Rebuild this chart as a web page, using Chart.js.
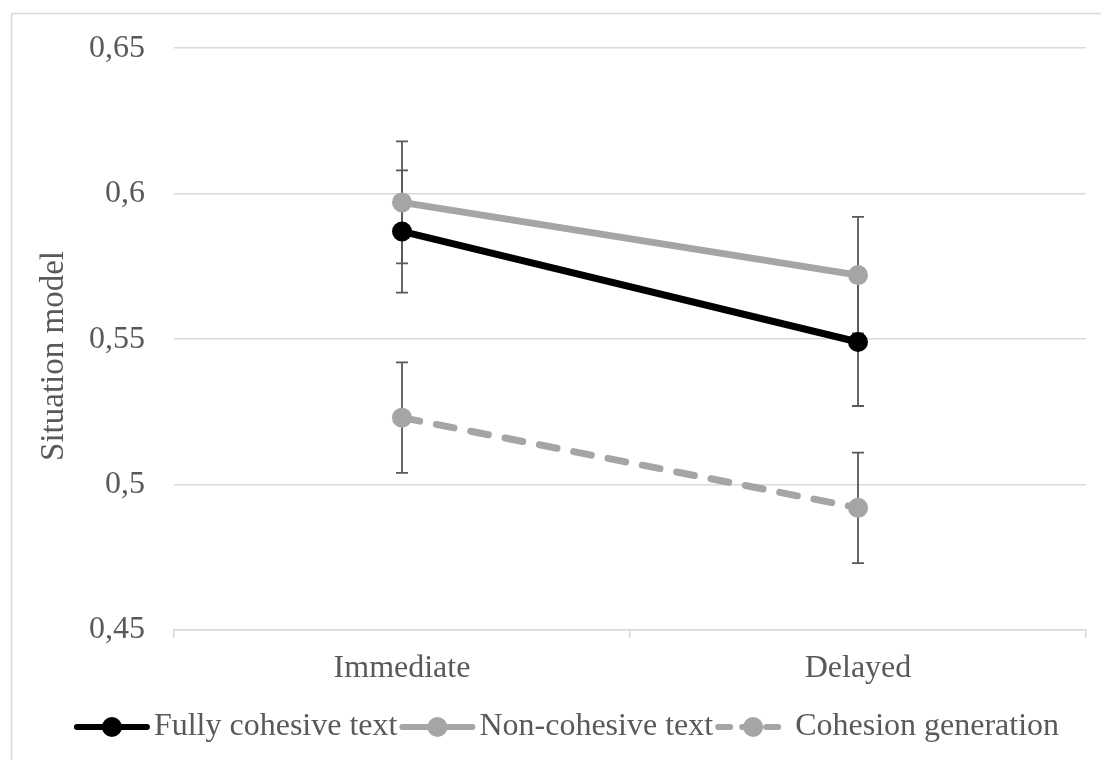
<!DOCTYPE html>
<html>
<head>
<meta charset="utf-8">
<script src="https://cdn.jsdelivr.net/npm/chart.js@4"></script>
<style>
  html, body { margin: 0; padding: 0; background: #ffffff; }
  canvas { display: block; }
</style>
</head>
<body>
<canvas id="c" width="1101" height="760"></canvas>
<script>
const categories = ['Immediate', 'Delayed'];
const fullyCohesive = [0.587, 0.549];
const nonCohesive = [0.597, 0.572];
const cohesionGeneration = [0.523, 0.492];
const fullyErr = [0.021, 0.022];
const nonErr = [0.021, 0.020];
const cohesionErr = [0.019, 0.019];
const yTickLabels = ['0,45', '0,5', '0,55', '0,6', '0,65'];
const seriesLabels = ['Fully cohesive text', 'Non-cohesive text', 'Cohesion generation'];
const yAxisTitle = 'Situation model';

const FONT = 'Liberation Serif, Times New Roman, serif';
const TEXT = '#595959';
const GRID = '#d9d9d9';
const GRAY = '#a5a5a5';

const errorBars = {
  id: 'errorBars',
  beforeDatasetsDraw(chart) {
    const ctx = chart.ctx;
    const y = chart.scales.y;
    ctx.save();
    ctx.strokeStyle = '#595959';
    ctx.lineWidth = 1.8;
    chart.data.datasets.forEach((ds, di) => {
      const meta = chart.getDatasetMeta(di);
      meta.data.forEach((pt, i) => {
        const v = ds.data[i], e = ds.errors[i];
        const yt = y.getPixelForValue(v + e), yb = y.getPixelForValue(v - e);
        const x = Math.round(pt.x);
        ctx.beginPath();
        ctx.moveTo(x, yt); ctx.lineTo(x, yb);
        ctx.moveTo(x - 6, yt); ctx.lineTo(x + 6, yt);
        ctx.moveTo(x - 6, yb); ctx.lineTo(x + 6, yb);
        ctx.stroke();
      });
    });
    ctx.restore();
  }
};

const frame = {
  id: 'frame',
  beforeDraw(chart) {
    const ctx = chart.ctx;
    ctx.save();
    ctx.fillStyle = '#ffffff';
    ctx.fillRect(0, 0, chart.width, chart.height);
    ctx.strokeStyle = GRID;
    ctx.lineWidth = 1.5;
    ctx.strokeRect(11.5, 13.5, 1200, 1000);
    ctx.restore();
  },
  afterDraw(chart) {
    const ctx = chart.ctx;
    ctx.save();
    ctx.translate(54, 356);
    ctx.rotate(-Math.PI / 2);
    ctx.font = '33px ' + FONT;
    ctx.fillStyle = TEXT;
    ctx.textAlign = 'center';
    ctx.textBaseline = 'middle';
    ctx.fillText(yAxisTitle, 0, 0);
    ctx.restore();
  }
};

const customLegend = {
  id: 'customLegend',
  afterDraw(chart) {
    const ctx = chart.ctx;
    ctx.save();
    ctx.font = '32px ' + FONT;
    const symW = 76, gapAfterSym = 4, gapAfterText = 2;
    const items = chart.data.datasets.map(ds => ({ ds, w: ctx.measureText(ds.label).width }));
    let total = 0;
    items.forEach((it, i) => { total += symW + gapAfterSym + it.w + (i < items.length - 1 ? gapAfterText : 0); });
    let x = 566.5 - total / 2;
    const yc = 727;
    items.forEach(it => {
      const ds = it.ds;
      ctx.save();
      ctx.strokeStyle = ds.borderColor;
      ctx.lineWidth = 6;
      ctx.lineCap = 'round';
      ctx.setLineDash(ds.legendDash || []);
      ctx.beginPath();
      ctx.moveTo(x + 3, yc); ctx.lineTo(x + symW - 3, yc);
      ctx.stroke();
      ctx.setLineDash([]);
      ctx.fillStyle = ds.pointBackgroundColor;
      ctx.beginPath();
      ctx.arc(x + symW / 2, yc, 10, 0, Math.PI * 2);
      ctx.fill();
      ctx.restore();
      ctx.fillStyle = TEXT;
      ctx.textBaseline = 'middle';
      ctx.textAlign = 'left';
      ctx.fillText(ds.label, x + symW + gapAfterSym, yc);
      x += symW + gapAfterSym + it.w + gapAfterText;
    });
    ctx.restore();
  }
};

function lineDataset(label, data, errors, color, dash, legendDash) {
  return {
    label, data, errors, legendDash,
    borderColor: color,
    backgroundColor: color,
    pointBackgroundColor: color,
    pointBorderColor: color,
    borderWidth: 7,
    borderDash: dash,
    borderCapStyle: 'round',
    pointRadius: 10,
    pointBorderWidth: 0,
    pointHoverRadius: 10,
    fill: false,
    tension: 0
  };
}

new Chart(document.getElementById('c'), {
  type: 'line',
  data: {
    labels: categories,
    datasets: [
      lineDataset(seriesLabels[0], fullyCohesive, fullyErr, '#000000', [], []),
      lineDataset(seriesLabels[1], nonCohesive, nonErr, GRAY, [], []),
      lineDataset(seriesLabels[2], cohesionGeneration, cohesionErr, GRAY, [18, 17], [12, 12])
    ]
  },
  options: {
    responsive: false,
    animation: false,
    devicePixelRatio: 1,
    layout: { padding: { left: 0, right: 15, top: 45, bottom: 0 } },
    plugins: { legend: { display: false }, tooltip: { enabled: false } },
    scales: {
      x: {
        offset: true,
        grid: { offset: true, drawOnChartArea: false, drawTicks: true, tickLength: 8, color: GRID, lineWidth: 1.5 },
        border: { display: true, color: GRID, width: 1.5 },
        ticks: { color: TEXT, font: { family: FONT, size: 32 }, padding: 11 },
        afterFit(scale) { scale.height = 130; }
      },
      y: {
        min: 0.45,
        max: 0.65,
        grid: { color: GRID, lineWidth: 1.5, drawTicks: false },
        border: { display: false },
        ticks: {
          stepSize: 0.05,
          color: TEXT,
          font: { family: FONT, size: 32 },
          padding: 29,
          callback: (v, i) => yTickLabels[i]
        },
        afterFit(scale) { scale.width = 174; }
      }
    }
  },
  plugins: [frame, errorBars, customLegend]
});
</script>
</body>
</html>
